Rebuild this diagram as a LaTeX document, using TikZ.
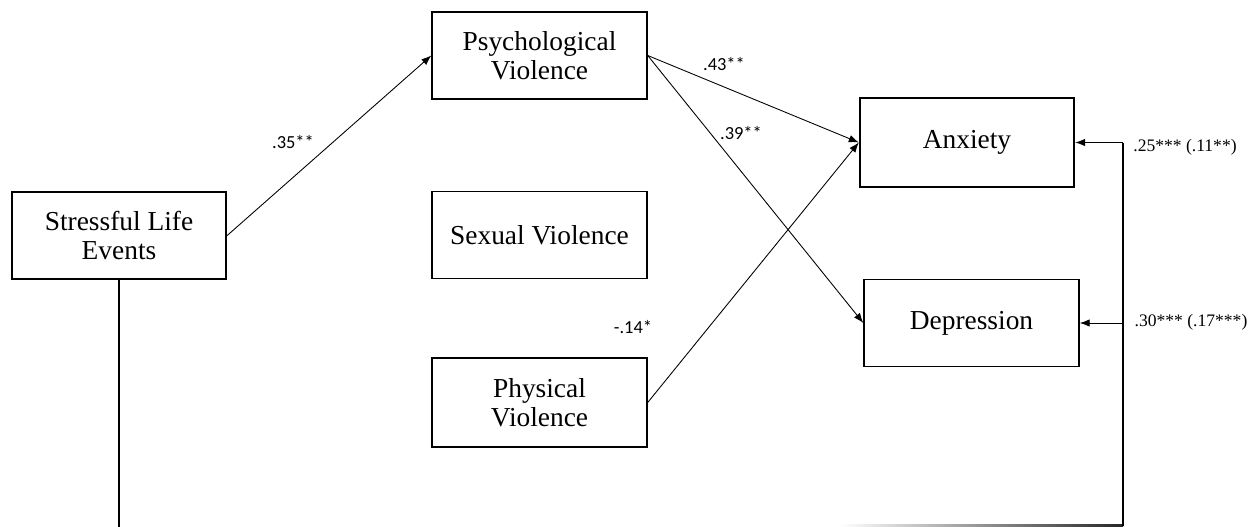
\documentclass[tikz,border=0pt]{standalone}
\usepackage{fontspec}
\setmainfont{Liberation Serif}
\newfontfamily\lblfont{Carlito}
\usetikzlibrary{arrows.meta}
\begin{document}
\begin{tikzpicture}[x=0.02cm,y=-0.02cm,
  box/.style={draw,line width=1.1pt,minimum width=4.29cm,minimum height=1.74cm,align=center,inner sep=0pt,
    font=\fontsize{15.6}{16.5}\selectfont},
  arr/.style={line width=0.5pt,-{Latex[length=2mm,width=1.5mm]}},
  plain/.style={line width=0.7pt},
  lbl/.style={font=\lblfont\fontsize{10.5}{12}\selectfont,inner sep=0pt},
  rlbl/.style={font=\fontsize{10}{12}\selectfont,inner sep=0pt}]
\useasboundingbox (0,0) rectangle (1254,527);
\node[box] (SLE) at (119,235.5) {Stressful Life\\Events};
\node[box] (Psy) at (539.5,55.5) {Psychological\\Violence};
\node[box] (Sex) at (539.5,235) {Sexual Violence};
\node[box,minimum height=1.78cm] (Phy) at (539.5,402.5) {Physical\\Violence};
\node[box,minimum height=1.78cm] (Anx) at (967,142.5) {Anxiety};
\node[box] (Dep) at (971.5,323) {Depression};
\draw[arr] (SLE.east) -- (Psy.west);
\draw[arr] (Psy.east) -- (Anx.west);
\draw[arr] (Psy.east) -- (Dep.west);
\draw[arr] (Phy.east) -- (Anx.west);
\coordinate (bL) at (119,527);
\coordinate (c1) at (1123,525.5);
\coordinate (ra) at (1123,142.5);
\coordinate (rd) at (1123,323);
\draw[plain] (SLE.south) -- (bL);
\shade[left color=white,right color=black!85] (840,524.5) rectangle (1123,526.5);
\draw[plain] (c1) -- (ra);
\draw[arr] (ra) -- (Anx.east);
\draw[arr] (rd) -- (Dep.east);
\node[lbl] (l35) at (293,142) {.35**};
\node[lbl] (l43) at (724,64) {.43**};
\node[lbl] (l39) at (741,133) {.39**};
\node[lbl] (l14) at (633,327) {-.14*};
\node[rlbl] (l25) at (1185,147) {.25*** (.11**)};
\node[rlbl] (l30) at (1191,322) {.30*** (.17***)};
\end{tikzpicture}
\end{document}
